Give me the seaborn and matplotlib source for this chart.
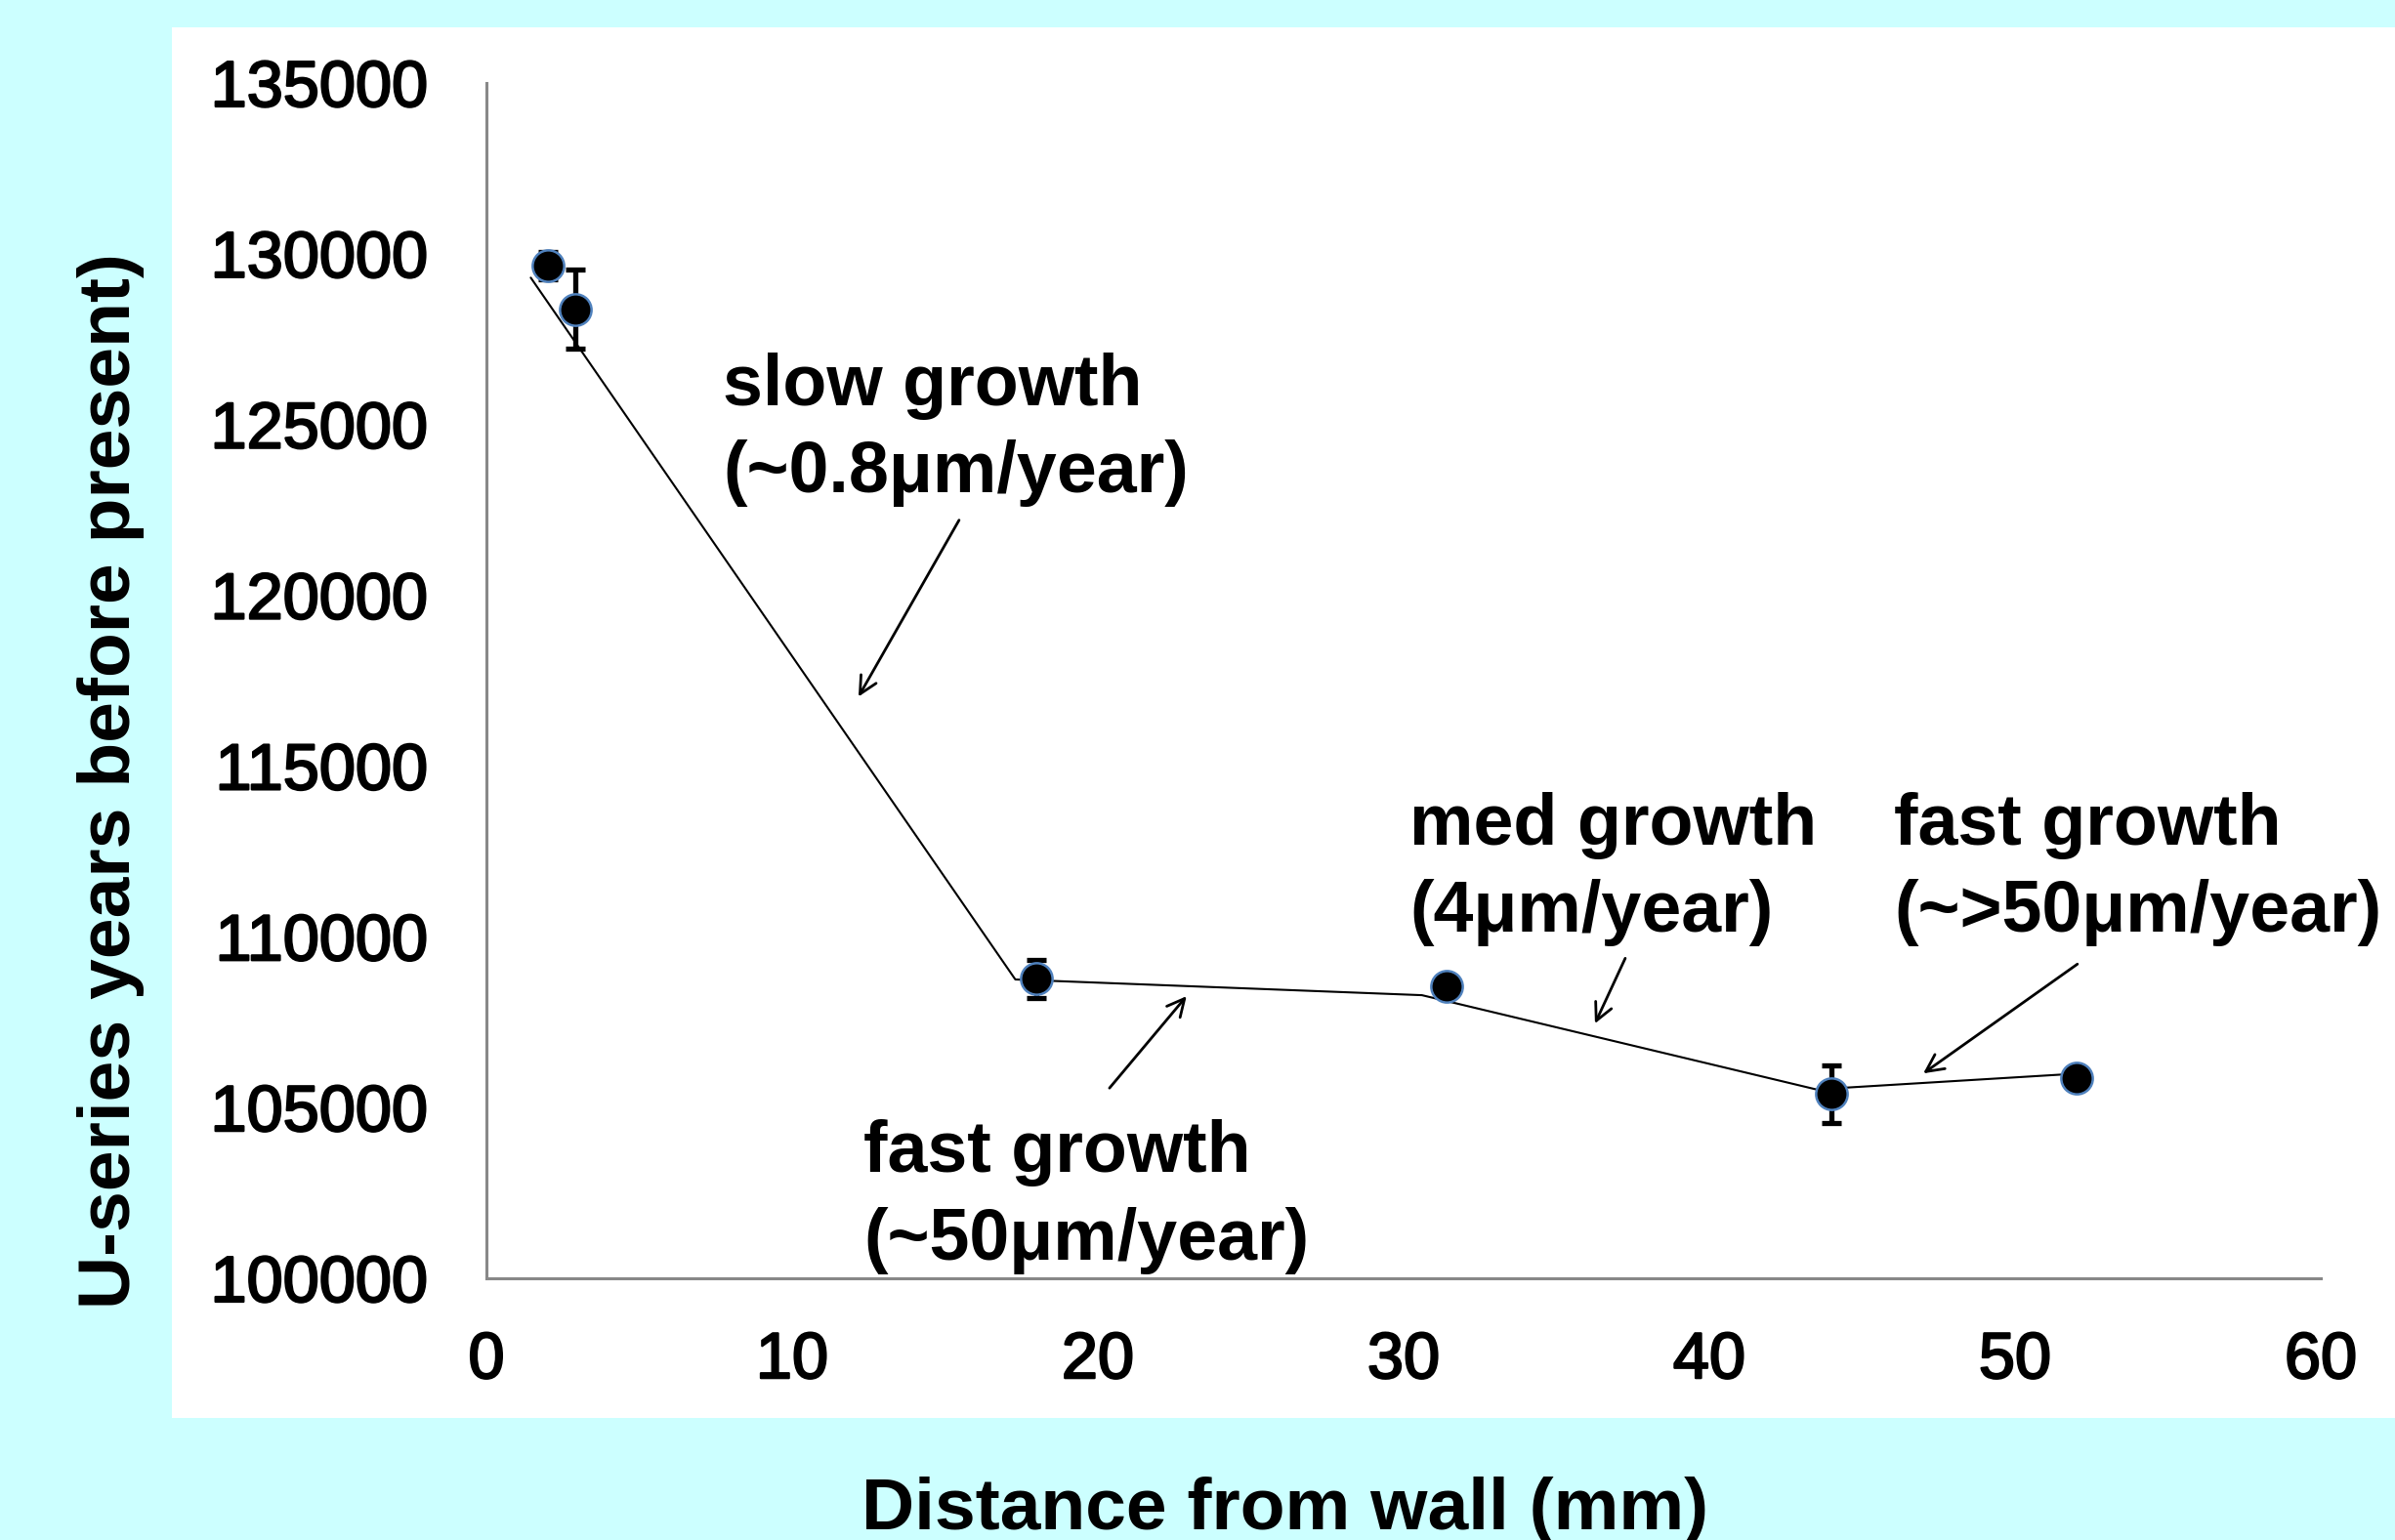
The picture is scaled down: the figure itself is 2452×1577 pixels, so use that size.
import matplotlib
matplotlib.use("Agg")
import matplotlib.pyplot as plt
import matplotlib.patheffects as pe
import seaborn as sns
import pandas as pd
from matplotlib.patches import Rectangle

# measured points (distance from wall, U-series age, 1 sigma)
distance_mm = [2.0, 2.9, 18.0, 31.4, 44.0, 52.0]
age_years = [129650, 128380, 108770, 108540, 105400, 105860]
age_err = [400, 1150, 550, 0, 840, 0]

# hand-drawn growth trend
trend_x = [1.45, 17.3, 30.6, 43.5, 51.6]
trend_y = [129300, 108750, 108290, 105530, 105970]

x_ticks = [0, 10, 20, 30, 40, 50, 60]
y_ticks = [100000, 105000, 110000, 115000, 120000, 125000, 130000, 135000]

# annotations: (line1, line2, text x, baseline y1, baseline y2, arrow tail, arrow head)
notes = [
    ("slow growth", "(~0.8\u03bcm/year)", 7.73, 125570, 123030, (15.46, 122200), (12.17, 117030)),
    ("fast growth", "(~50\u03bcm/year)", 12.33, 103110, 100540, (20.38, 105570), (22.9, 108260)),
    ("med growth", "(4\u03bcm/year)", 30.19, 112690, 110140, (37.25, 109370), (36.26, 107460)),
    ("fast growth", "(~>50\u03bcm/year)", 46.04, 112690, 110140, (52.04, 109200), (47.0, 106000)),
]

sns.set_style("white")
plt.rcParams['font.family'] = ['Liberation Sans', 'DejaVu Sans']
plt.rcParams['text.color'] = 'black'

W, H = 2452, 1577
fig = plt.figure(figsize=(W / 100, H / 100), dpi=100)
fig.patch.set_facecolor('#CCFFFF')
fig.patches.append(Rectangle((176 / W, 1 - 1452 / H), 1 - 176 / W, (1452 - 28) / H,
                             transform=fig.transFigure, facecolor='white', edgecolor='none', zorder=0))

ax = fig.add_axes([498 / W, 1 - 1309 / H, (2376 - 498) / W, (1309 - 85) / H])
ax.set_zorder(2)
ax.set_facecolor('none')

df = pd.DataFrame({'x': distance_mm, 'y': age_years, 'err': age_err})
tr = pd.DataFrame({'x': trend_x, 'y': trend_y})

sns.lineplot(data=tr, x='x', y='y', ax=ax, color='black', lw=1.5, sort=False, zorder=2)
ax.errorbar(df['x'], df['y'], yerr=df['err'], fmt='none', ecolor='black',
            elinewidth=3.8, capsize=7.5, capthick=3.8, zorder=3)
sns.scatterplot(data=df, x='x', y='y', ax=ax, color='black', edgecolor='#4F81BD',
                linewidth=1.8, s=540, zorder=4)

ax.set_xlim(0, 60)
ax.set_ylim(100000, 135000)
ax.set_xticks(x_ticks)
ax.set_yticks(y_ticks)
ax.set_yticklabels([str(v) for v in y_ticks])
ax.set_xlabel('')
ax.set_ylabel('')

for s in ['top', 'right']:
    ax.spines[s].set_visible(False)
for s in ['left', 'bottom']:
    ax.spines[s].set_color('#888888')
    ax.spines[s].set_linewidth(2.2)
ax.tick_params(axis='both', direction='out', length=17, width=2.2, color='#888888',
               labelsize=48, labelcolor='black')
ax.tick_params(axis='y', pad=26)
ax.tick_params(axis='x', pad=22)
# the original labels are rendered a bit heavier than plain regular weight
for lab in ax.get_xticklabels() + ax.get_yticklabels():
    lab.set_path_effects([pe.withStroke(linewidth=1.6, foreground='black')])

for l1, l2, tx, y1, y2, tail, head in notes:
    ax.text(tx, y1, l1, fontsize=53, fontweight='bold', color='black',
            ha='left', va='baseline', clip_on=False)
    ax.text(tx, y2, l2, fontsize=53, fontweight='bold', color='black',
            ha='left', va='baseline', clip_on=False)
    ax.annotate('', xy=head, xytext=tail,
                arrowprops=dict(arrowstyle='->', lw=2.0, color='black',
                                mutation_scale=32, shrinkA=0, shrinkB=0))

fig.text(1316 / W, 1 - 1566 / H, 'Distance from wall (mm)', fontsize=54, fontweight='bold',
         color='black', ha='center', va='baseline')
fig.text(114 / W, 1 - 800 / H, 'U-series years before present)', fontsize=54, fontweight='bold',
         color='black', rotation=90, ha='center', va='center')

fig.savefig('out.png', dpi=100, facecolor=fig.get_facecolor())
